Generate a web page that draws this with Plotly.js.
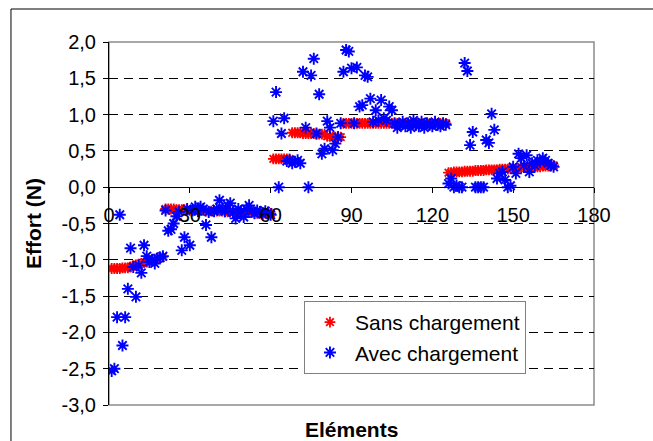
<!DOCTYPE html>
<html>
<head>
<meta charset="utf-8">
<script src="https://cdn.plot.ly/plotly-3.0.1.min.js"></script>
<style>html,body{margin:0;padding:0;background:#fff;}#chart{width:653px;height:441px;}</style>
</head>
<body>
<div id="chart"></div>
<script>
// Values (element index 1..165)
const sansChargement = [
  -1.12,-1.12,-1.12,-1.12,-1.11,-1.11,-1.11,-1.10,
  -1.08,-1.07,-1.06,-1.05,-1.04,-1.03,-1.01,-1.00,-0.99,-0.98,-0.97,-0.96,
  -0.30,-0.30,-0.30,-0.30,-0.31,-0.31,-0.31,-0.31,-0.31,-0.32,-0.32,-0.32,-0.32,-0.32,-0.32,-0.33,-0.33,-0.33,-0.33,-0.33,
  -0.33,-0.33,-0.34,-0.34,-0.34,-0.34,-0.34,-0.35,-0.35,-0.35,-0.35,-0.35,-0.35,-0.36,-0.36,-0.36,-0.36,-0.36,-0.36,-0.36,
  0.39,0.39,0.39,0.39,0.39,0.39,0.39,
  0.75,0.75,0.75,0.75,0.74,0.74,0.74,0.74,0.74,0.73,0.73,0.73,0.73,
  0.70,0.70,0.69,0.69,0.69,0.69,
  0.88,0.88,0.88,0.88,0.88,0.88,0.88,0.88,0.88,0.88,0.88,0.88,0.88,0.88,0.88,0.88,0.88,0.88,0.88,0.88,
  0.88,0.88,0.88,0.88,0.88,0.88,0.88,0.88,0.88,0.88,0.88,0.88,0.88,0.88,0.88,0.88,0.88,0.88,0.88,
  0.20,0.20,0.21,0.21,0.21,0.21,0.22,0.22,0.22,0.22,0.23,0.23,0.23,0.23,0.24,0.24,0.24,0.24,0.24,0.25,
  0.25,0.25,0.25,0.26,0.26,0.26,0.26,0.27,0.27,0.27,0.27,0.28,0.28,0.28,0.28,0.29,0.29,0.29,0.30,0.30
];
const avecChargement = [
  -2.53,-2.50,-1.79,-0.38,-2.18,-1.79,-1.40,-0.84,-1.10,-1.51,
  -1.08,-1.18,-0.80,-0.95,-1.03,-1.00,-1.05,-0.98,-0.97,-0.95,
  -0.32,-0.60,-0.58,-0.50,-0.40,-0.34,-0.87,-0.69,-0.30,-0.80,
  -0.32,-0.27,-0.33,-0.27,-0.30,-0.52,-0.34,-0.69,-0.33,-0.30,
  -0.18,-0.30,-0.33,-0.25,-0.22,-0.35,-0.43,-0.30,-0.33,-0.41,
  -0.30,-0.25,-0.33,-0.36,-0.32,-0.34,-0.37,-0.33,-0.35,-0.38,
  0.91,1.31,0.00,0.74,0.95,0.36,0.37,0.33,0.35,0.37,
  0.33,1.59,0.82,0.00,1.54,1.77,0.74,1.28,0.46,0.53,
  0.91,0.82,0.51,0.60,0.69,0.88,1.59,1.89,1.87,1.64,
  0.88,1.65,1.11,1.13,1.54,1.52,1.22,0.90,1.06,0.92,
  1.20,0.95,0.92,1.11,1.06,0.88,0.82,0.86,0.90,0.84,
  0.88,0.82,0.92,0.86,0.84,0.90,0.82,0.88,0.86,0.84,
  0.90,0.86,0.84,0.88,0.86,0.05,0.12,0.00,0.02,0.00,
  0.00,1.71,1.60,0.58,0.76,0.00,0.00,0.00,0.00,0.65,
  0.61,1.01,0.79,0.12,0.19,0.21,0.10,0.00,0.02,0.28,
  0.19,0.46,0.40,0.30,0.44,0.21,0.33,0.30,0.37,0.35,
  0.40,0.37,0.33,0.30,0.28
];
const elements = sansChargement.map((_, i) => i + 1);
const seriesNames = ["Sans chargement", "Avec chargement"];
const xTickVals = [0, 30, 60, 90, 120, 150, 180];
const xTickText = ["0", "30", "60", "90", "120", "150", "180"];
const yTickVals = [-3, -2.5, -2, -1.5, -1, -0.5, 0, 0.5, 1, 1.5, 2];
const yTickText = ["-3,0", "-2,5", "-2,0", "-1,5", "-1,0", "-0,5", "0,0", "0,5", "1,0", "1,5", "2,0"];
const yGridVals = [-2.5, -2, -1.5, -1, -0.5, 0.5, 1, 1.5];

const FONT = "Liberation Sans, Arial, sans-serif";

const traces = [
  {
    x: elements, y: sansChargement, name: seriesNames[0], type: "scatter", mode: "markers",
    marker: {symbol: "asterisk-open", size: 9, color: "#FF0000", line: {color: "#FF0000", width: 1.8}}
  },
  {
    x: elements, y: avecChargement, name: seriesNames[1], type: "scatter", mode: "markers",
    marker: {symbol: "asterisk-open", size: 10, color: "#0000FF", line: {color: "#0000FF", width: 1.9}}
  }
];

const layout = {
  width: 653, height: 441,
  margin: {l: 109, r: 59, t: 42, b: 36, pad: 0},
  paper_bgcolor: "#fff", plot_bgcolor: "#fff",
  font: {family: FONT, size: 20, color: "#000"},
  showlegend: true,
  legend: {
    x: 0.402, y: 0.2865, xanchor: "left", yanchor: "top",
    bgcolor: "#fff", bordercolor: "#808080", borderwidth: 1,
    itemwidth: 40,
    font: {family: FONT, size: 21, color: "#000"}, tracegroupgap: 0
  },
  xaxis: {
    range: [0, 180], tickvals: xTickVals, ticktext: xTickText,
    anchor: "free", position: 0.6006,
    showline: true, linecolor: "#000", linewidth: 1,
    ticks: "outside", ticklen: 5, tickcolor: "#000", ticklabelstandoff: 5,
    showgrid: false, zeroline: false,
    tickfont: {family: FONT, size: 20, color: "#000"}
  },
  yaxis: {
    range: [-3, 2], tickvals: yTickVals, ticktext: yTickText,
    showline: true, linecolor: "#000", linewidth: 1,
    ticks: "outside", ticklen: 5, tickcolor: "#000", ticklabelstandoff: 3,
    showgrid: false, zeroline: false,
    tickfont: {family: FONT, size: 20, color: "#000"},
    title: {text: "<b>Effort (N)</b>", font: {family: FONT, size: 21, color: "#000"}, standoff: 14},
    minor: {tickvals: yGridVals, showgrid: true, gridcolor: "#000", gridwidth: 1, griddash: "9px,6px", ticks: ""}
  },
  shapes: [
    {type: "rect", xref: "paper", yref: "paper", x0: 0, x1: 1, y0: 0, y1: 1,
     line: {color: "#8c8c8c", width: 1.5}, layer: "below"},
    {type: "line", xref: "paper", yref: "paper", x0: -0.2021, x1: -0.2021, y0: -0.12, y1: 1.0909,
     line: {color: "#000", width: 1}},
    {type: "line", xref: "paper", yref: "paper", x0: -0.2021, x1: 1.13, y0: 1.0909, y1: 1.0909,
     line: {color: "#000", width: 1}}
  ],
  annotations: [
    {text: "<b>Eléments</b>", xref: "paper", yref: "paper", x: 0.5, y: -0.0688,
     xanchor: "center", yanchor: "middle", showarrow: false,
     font: {family: FONT, size: 21, color: "#000"}}
  ]
};

Plotly.newPlot("chart", traces, layout, {displayModeBar: false, staticPlot: true});
</script>
</body>
</html>
